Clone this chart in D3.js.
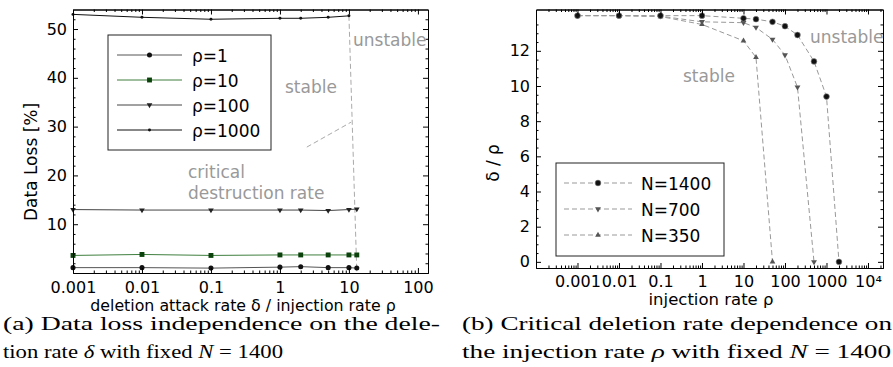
<!doctype html>
<html lang="en">
<head>
<meta charset="utf-8">
<title>Data loss and critical deletion rate</title>
<style>
  body { margin: 0; background: white; }
  svg { display: block; font-family: "DejaVu Sans", sans-serif; }
  .axis path, .axis line { fill: none; stroke: black; stroke-width: 1px; }
  .axis text { font-family: "DejaVu Sans", sans-serif; font-size: 16px; fill: black; }
  .note { fill: #999; font-size: 17px; }
  .lab { font-size: 15px; fill: black; }
  .leg { font-size: 17px; fill: black; }
  .caption { font-family: "Liberation Serif", serif; font-size: 18px; fill: black; }
</style>
</head>
<body>
<script src="https://cdnjs.cloudflare.com/ajax/libs/d3/7.8.5/d3.min.js"></script>
<script>
// ---- panel (a): data loss vs deletion rate / injection rate ----
var rates = [0.001, 0.01, 0.1, 1, 2, 5, 10, 13];
var loss1 = [1.1, 1.1, 1.0, 1.2, 1.3, 1.1, 1.1, 1.0];
var loss10 = [3.6, 3.8, 3.6, 3.7, 3.7, 3.7, 3.7, 3.7];
var loss100 = [13.0, 12.9, 12.9, 12.9, 12.9, 12.8, 13.0, 13.1];
var loss1000 = [53.0, 52.4, 52.0, 52.2, 52.2, 52.4, 52.7];
var critX = [10, 13];
var critY = [52.7, 0.2];
var arrowX = [2.45, 10.7];
var arrowY = [25.8, 30.9];
var aXTicks = [0.001, 0.01, 0.1, 1, 10, 100];
var aXLabels = ["0.001", "0.01", "0.1", "1", "10", "100"];
var aYTicks = [10, 20, 30, 40, 50];
var aNames = ["ρ=1", "ρ=10", "ρ=100", "ρ=1000"];

// ---- panel (b): critical deletion rate vs injection rate ----
var inj1400 = [0.001, 0.01, 0.1, 1, 10, 20, 50, 100, 200, 500, 1000, 2000];
var crit1400 = [14, 14, 14, 14, 13.85, 13.8, 13.65, 13.4, 12.9, 11.4, 9.4, 0];
var inj700 = [0.001, 0.01, 0.1, 1, 10, 20, 50, 100, 200, 500];
var crit700 = [14, 14, 13.97, 13.65, 13.6, 13.33, 12.65, 11.76, 9.93, 0];
var inj350 = [0.001, 0.01, 0.1, 1, 10, 20, 50];
var crit350 = [14, 14, 13.95, 13.5, 12.57, 11.63, 0];
var bXTicks = [0.001, 0.01, 0.1, 1, 10, 100, 1000, 10000];
var bXLabels = ["0.001", "0.01", "0.1", "1", "10", "100", "1000", "10⁴"];
var bYTicks = [0, 2, 4, 6, 8, 10, 12];
var bNames = ["N=1400", "N=700", "N=350"];

var W = 893, H = 367;
var svg = d3.select("body").append("svg").attr("width", W).attr("height", H);

function minorLog(lo, hi) {
  var out = [];
  for (var e = Math.floor(Math.log10(lo)); e <= Math.ceil(Math.log10(hi)); e++) {
    for (var m = 2; m <= 9; m++) {
      var v = m * Math.pow(10, e);
      if (v >= lo && v <= hi) out.push(v);
    }
  }
  return out;
}

// four-sided matplotlib style frame, ticks pointing in
function frame(x, y, xt, xl, yt, ymin, xpad) {
  var xr = x.range(), yr = y.range();
  var xmin = minorLog(x.domain()[0], x.domain()[1]);
  var fmt = function(d) { return xl[xt.indexOf(d)]; };
  function put(axis, tx, ty) {
    return svg.append("g").attr("class", "axis")
      .attr("transform", "translate(" + tx + "," + ty + ")")
      .call(axis);
  }
  put(d3.axisBottom(x).tickValues(xt).tickFormat(fmt).tickSizeInner(-5).tickSizeOuter(0).tickPadding(xpad), 0, yr[0]);
  put(d3.axisBottom(x).tickValues(xmin).tickFormat("").tickSizeInner(-2.5).tickSizeOuter(0), 0, yr[0]);
  put(d3.axisTop(x).tickValues(xt).tickFormat("").tickSizeInner(-5).tickSizeOuter(0), 0, yr[1]);
  put(d3.axisTop(x).tickValues(xmin).tickFormat("").tickSizeInner(-2.5).tickSizeOuter(0), 0, yr[1]);
  put(d3.axisLeft(y).tickValues(yt).tickFormat(d3.format("d")).tickSizeInner(-5).tickSizeOuter(0).tickPadding(6), xr[0], 0);
  put(d3.axisLeft(y).tickValues(ymin).tickFormat("").tickSizeInner(-2.5).tickSizeOuter(0), xr[0], 0);
  put(d3.axisRight(y).tickValues(yt).tickFormat("").tickSizeInner(-5).tickSizeOuter(0), xr[1], 0);
  put(d3.axisRight(y).tickValues(ymin).tickFormat("").tickSizeInner(-2.5).tickSizeOuter(0), xr[1], 0);
}

function series(x, y, xs, ys, st) {
  var pts = xs.map(function(v, i) { return [v, ys[i]]; });
  var line = d3.line().x(function(d) { return x(d[0]); }).y(function(d) { return y(d[1]); });
  svg.append("path").datum(pts)
    .attr("d", line)
    .attr("fill", "none")
    .attr("stroke", st.line)
    .attr("stroke-width", st.width || 1)
    .attr("stroke-dasharray", st.dash || null);
  if (!st.symbol) return;
  svg.selectAll(null).data(pts).enter().append("path")
    .attr("d", d3.symbol().type(st.symbol).size(st.size))
    .attr("transform", function(d) {
      return "translate(" + x(d[0]) + "," + y(d[1]) + ")" + (st.flip ? " rotate(180)" : "");
    })
    .attr("fill", st.fill)
    .attr("stroke", st.edge || "none")
    .attr("stroke-width", 0.6);
}

function legend(box, rows, styles, lx0, lx1, tx) {
  svg.append("rect")
    .attr("x", box[0]).attr("y", box[1])
    .attr("width", box[2]).attr("height", box[3])
    .attr("fill", "white").attr("stroke", "#222").attr("stroke-width", 1);
  rows.forEach(function(r, i) {
    var st = styles[i];
    svg.append("line")
      .attr("x1", lx0).attr("x2", lx1).attr("y1", r.y).attr("y2", r.y)
      .attr("stroke", st.line).attr("stroke-width", st.width || 1)
      .attr("stroke-dasharray", st.dash || null);
    svg.append("path")
      .attr("d", d3.symbol().type(st.symbol).size(st.size))
      .attr("transform", "translate(" + (lx0 + lx1) / 2 + "," + r.y + ")" + (st.flip ? " rotate(180)" : ""))
      .attr("fill", st.fill).attr("stroke", st.edge || "none").attr("stroke-width", 0.6);
    svg.append("text").attr("class", "leg")
      .attr("x", tx).attr("y", r.y + 7).text(r.name);
  });
}

// ================= panel (a) =================
var xa = d3.scaleLog().domain([0.001, 140]).range([73, 428]);
var ya = d3.scaleLinear().domain([0, 54]).range([273, 9.5]);

var aStyles = [
  { line: "#555", symbol: d3.symbolCircle, size: 20, fill: "#111" },
  { line: "#3f7f3f", symbol: d3.symbolSquare, size: 24, fill: "#0b420b" },
  { line: "#444", symbol: d3.symbolTriangle, size: 14, fill: "#222", flip: true },
  { line: "#111", symbol: d3.symbolCircle, size: 7, fill: "#111" }
];

series(xa, ya, critX, critY, { line: "#aaa", width: 1, dash: "5,3" });
series(xa, ya, arrowX, arrowY, { line: "#aaa", width: 1, dash: "5,3" });
series(xa, ya, rates, loss1, aStyles[0]);
series(xa, ya, rates, loss10, aStyles[1]);
series(xa, ya, rates, loss100, aStyles[2]);
series(xa, ya, rates.slice(0, loss1000.length), loss1000, aStyles[3]);

frame(xa, ya, aXTicks, aXLabels, aYTicks, d3.range(2, 54, 2).filter(function(v) { return v % 10; }), 9);

legend([108, 35, 163, 115],
  aNames.map(function(n, i) { return { name: n, y: 55 + i * 25 }; }),
  aStyles, 117, 182, 192);

svg.append("text").attr("class", "note").attr("x", 353).attr("y", 46).text("unstable");
svg.append("text").attr("class", "note").attr("x", 285).attr("y", 93).text("stable");
svg.append("text").attr("class", "note").attr("x", 188).attr("y", 178).text("critical");
svg.append("text").attr("class", "note").attr("x", 188).attr("y", 199).text("destruction rate");

svg.append("text").attr("class", "lab")
  .attr("transform", "translate(37,162) rotate(-90)")
  .attr("text-anchor", "middle").style("font-size", "17px")
  .text("Data Loss [%]");
svg.append("text").attr("class", "lab")
  .attr("x", 243).attr("y", 311).attr("text-anchor", "middle").style("font-size", "15.8px")
  .text("deletion attack rate δ / injection rate ρ");

// ================= panel (b) =================
var xb = d3.scaleLog().domain([1e-4, 2.3e4]).range([536, 883]);
var yb = d3.scaleLinear().domain([-0.35, 14.35]).range([268, 9.5]);

var bStyles = [
  { line: "#999", width: 1, dash: "5,3", symbol: d3.symbolCircle, size: 26, fill: "#111", edge: "#888" },
  { line: "#999", width: 1, dash: "5,3", symbol: d3.symbolTriangle, size: 15, fill: "#555", flip: true },
  { line: "#999", width: 1, dash: "5,3", symbol: d3.symbolTriangle, size: 14, fill: "#555" }
];

series(xb, yb, inj350, crit350, bStyles[2]);
series(xb, yb, inj700, crit700, bStyles[1]);
series(xb, yb, inj1400, crit1400, bStyles[0]);

frame(xb, yb, bXTicks, bXLabels, bYTicks, d3.range(0.5, 14.3, 0.5).filter(function(v) { return v % 2; }), 8);

legend([556, 163, 168, 93],
  bNames.map(function(n, i) { return { name: n, y: 183 + i * 26 }; }),
  bStyles, 564, 632, 641);

svg.append("text").attr("class", "note").attr("x", 810).attr("y", 43).text("unstable");
svg.append("text").attr("class", "note").attr("x", 683).attr("y", 82).text("stable");

svg.append("text").attr("class", "lab")
  .attr("transform", "translate(499,163) rotate(-90)")
  .attr("text-anchor", "middle").style("font-size", "17px")
  .text("δ / ρ");
svg.append("text").attr("class", "lab")
  .attr("x", 711).attr("y", 305).attr("text-anchor", "middle").style("font-size", "16.5px")
  .text("injection rate ρ");

// ================= captions =================
var capA1 = [["(a) Data loss independence on the dele-", false]];
var capA2 = [["tion rate ", false], ["δ", true], [" with fixed ", false], ["N", true], [" = 1400", false]];
var capB1 = [["(b) Critical deletion rate dependence on", false]];
var capB2 = [["the injection rate ", false], ["ρ", true], [" with fixed ", false], ["N", true], [" = 1400", false]];

function caption(parts, x, y, len) {
  var t = svg.append("text").attr("class", "caption")
    .attr("x", x).attr("y", y)
    .attr("textLength", len).attr("lengthAdjust", "spacingAndGlyphs");
  parts.forEach(function(p) {
    t.append("tspan").style("font-style", p[1] ? "italic" : null).text(p[0]);
  });
}
caption(capA1, 3, 330, 437);
caption(capA2, 3, 358, 280);
caption(capB1, 462, 330, 430);
caption(capB2, 462, 358, 429);
</script>
</body>
</html>
